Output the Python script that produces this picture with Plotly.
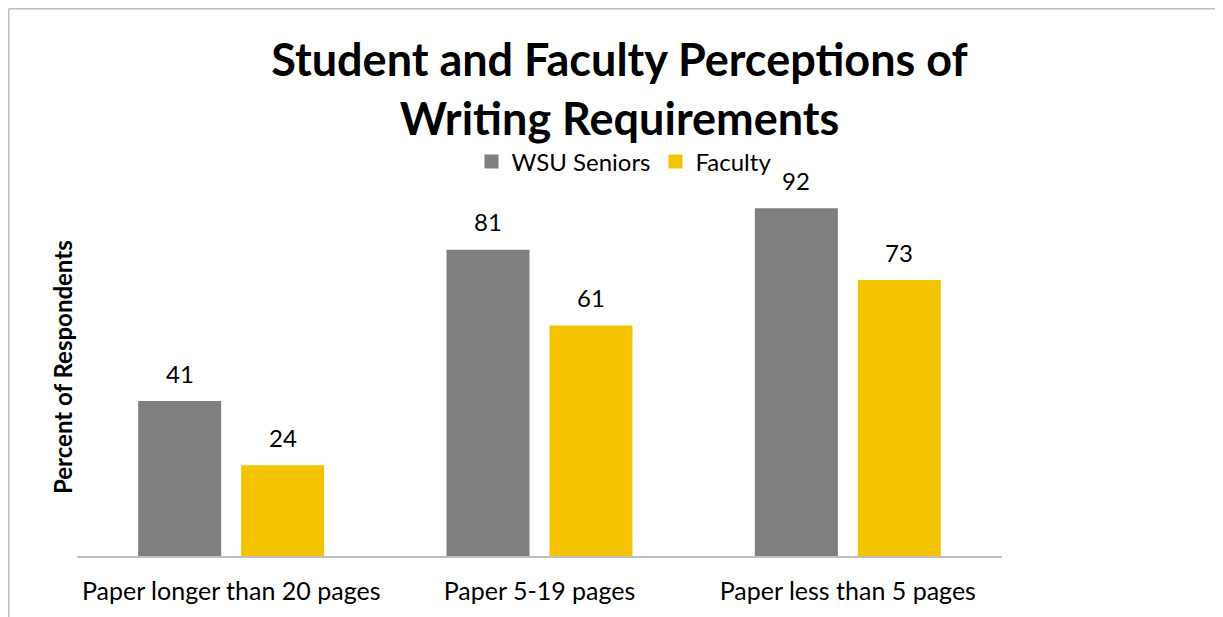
import plotly.graph_objects as go

categories = ["Paper longer than 20 pages", "Paper 5-19 pages", "Paper less than 5 pages"]
seniors = [41, 81, 92]
faculty = [24, 61, 73]
series_names = ["WSU Seniors", "Faculty"]
colors = ["#7F7F7F", "#F4C300"]

FONT = "Lato"
W, H = 1223, 617
ML, MR, MT, MB = 69, 229, 170, 69
PW, PH = W - ML - MR, H - MT - MB

fig = go.Figure()
for name, vals, col in zip(series_names, [seniors, faculty], colors):
    fig.add_trace(go.Bar(name=name, x=categories, y=vals, showlegend=False, legendgroup=name,
                         marker=dict(color=col, line=dict(width=0))))
# legend entries with larger square swatches
for name, col in zip(series_names, colors):
    fig.add_trace(go.Scatter(name=name, x=[None], y=[None], mode="markers", legendgroup=name,
                             marker=dict(symbol="square", size=14, color=col), showlegend=True))

# data labels above bars
for vals, shift in zip([seniors, faculty], [-51.5, 51.5]):
    for c, v in zip(categories, vals):
        fig.add_annotation(x=c, y=v, xref="x", yref="y", text=str(v), showarrow=False,
                           xshift=shift, yshift=28, yanchor="middle",
                           font=dict(family=FONT, size=24, color="#000000"))

# y-axis title
fig.add_annotation(xref="paper", yref="paper", x=0, y=0.5, xshift=-15, text="<b>Percent of Respondents</b>",
                   textangle=-90, showarrow=False, xanchor="center", yanchor="middle",
                   font=dict(family=FONT, size=24, color="#000000"))

# chart border (left and top)
bx = (0.75 - ML) / PW
by_top = (H - MB - 0.75) / PH
by_bot = (H - MB - 660) / PH
fig.add_shape(type="line", xref="paper", yref="paper", x0=bx, x1=bx, y0=by_bot, y1=by_top,
              line=dict(color="#BFBFBF", width=1.5))
fig.add_shape(type="line", xref="paper", yref="paper", x0=bx, x1=(1260 - ML) / PW, y0=by_top, y1=by_top,
              line=dict(color="#BFBFBF", width=1.5))

fig.update_layout(
    width=W, height=H,
    margin=dict(l=ML, r=MR, t=MT, b=MB, autoexpand=False),
    paper_bgcolor="white", plot_bgcolor="white",
    barmode="group", bargap=0.332, bargroupgap=0.194,
    title=dict(text="<b>Student and Faculty Perceptions of<br>Writing Requirements</b>",
               x=611.5 / W, xref="container", xanchor="center",
               y=1 - 68 / H, yref="container", yanchor="middle",
               font=dict(family=FONT, size=45, color="#000000")),
    legend=dict(orientation="h", x=616 / W, y=1 - 154 / H, xref="container", yref="container",
                xanchor="center", yanchor="middle", font=dict(family=FONT, size=24, color="#000000"),
                itemwidth=30, tracegroupgap=0),
    showlegend=True,
    xaxis=dict(showline=True, linecolor="#BFBFBF", linewidth=1.5, ticks="", showgrid=False,
               tickfont=dict(family=FONT, size=25, color="#000000"), ticklabelstandoff=12),
    yaxis=dict(range=[0, 100], showticklabels=False, showgrid=False, zeroline=False, showline=False),
)

fig.write_html("out.html")
